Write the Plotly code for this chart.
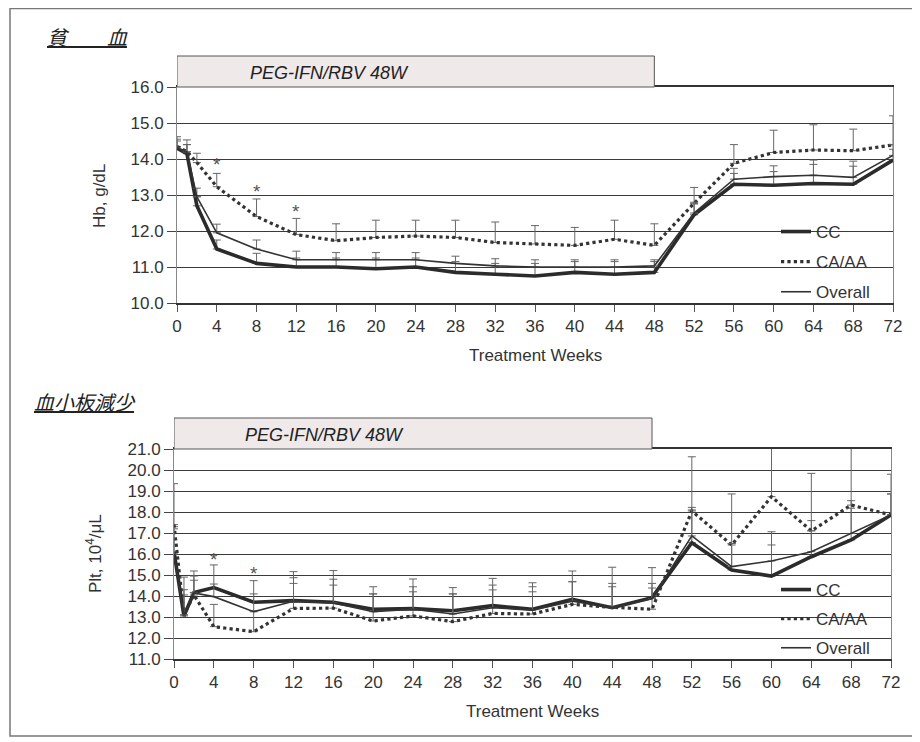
import plotly.graph_objects as go

W, H = 920, 742
OX, OY = 8, 8  # page body margin offset


def px(x):
    return (x - OX) / W


def py(y):
    return 1 - (y - OY) / H


# ---------------- data ----------------
weeks = [0, 1, 2, 4, 8, 12, 16, 20, 24, 28, 32, 36, 40, 44, 48, 52, 56, 60, 64, 68, 72]
series_names = ["CC", "CA/AA", "Overall"]
x_tick_vals = [0, 4, 8, 12, 16, 20, 24, 28, 32, 36, 40, 44, 48, 52, 56, 60, 64, 68, 72]

# Hb (g/dL)
hb_cc = [14.3, 14.15, 12.7, 11.5, 11.1, 11.0, 11.0, 10.95, 11.0, 10.85, 10.8, 10.75, 10.85, 10.8, 10.85,
         12.45, 13.3, 13.27, 13.32, 13.3, 13.97]
hb_ca = [14.35, 14.2, 13.9, 13.23, 12.4, 11.9, 11.73, 11.82, 11.86, 11.82, 11.68, 11.64, 11.6, 11.77, 11.6,
         12.77, 13.88, 14.18, 14.25, 14.23, 14.39]
hb_all = [14.3, 14.2, 12.95, 11.95, 11.5, 11.2, 11.2, 11.2, 11.2, 11.1, 11.03, 11.0, 11.0, 11.0, 11.03,
          12.5, 13.44, 13.51, 13.55, 13.49, 14.1]
hb_cc_sd = [0.25, 0.25, 0.25, 0.25, 0.28, 0.25, 0.25, 0.3, 0.25, 0.3, 0.3, 0.35, 0.3, 0.35, 0.3,
            0.3, 0.3, 0.38, 0.53, 0.5, 0.3]
hb_ca_sd = [0.27, 0.33, 0.26, 0.37, 0.49, 0.45, 0.47, 0.48, 0.44, 0.48, 0.57, 0.51, 0.5, 0.53, 0.6,
            0.44, 0.52, 0.62, 0.7, 0.6, 0.81]
hb_all_sd = [0.2, 0.2, 0.24, 0.24, 0.25, 0.24, 0.2, 0.2, 0.2, 0.2, 0.2, 0.2, 0.2, 0.2, 0.17,
             0.3, 0.3, 0.3, 0.42, 0.45, 0.3]
hb_star_weeks = [4, 8, 12]
hb_star_vals = [13.95, 13.2, 12.65]
hb_y_ticks = [10.0, 11.0, 12.0, 13.0, 14.0, 15.0, 16.0]

# Platelets (10^4/uL)
plt_cc = [16.1, 13.05, 14.17, 14.4, 13.7, 13.78, 13.7, 13.37, 13.4, 13.3, 13.54, 13.37, 13.84, 13.44, 13.92,
          16.54, 15.24, 14.95, 15.87, 16.67, 17.86]
plt_ca = [17.4, 13.1, 14.05, 12.54, 12.3, 13.41, 13.42, 12.81, 13.05, 12.78, 13.17, 13.14, 13.6, 13.46, 13.37,
          18.05, 16.43, 18.73, 17.1, 18.33, 17.86]
plt_all = [16.0, 13.1, 14.15, 13.97, 13.25, 13.75, 13.67, 13.25, 13.37, 13.14, 13.44, 13.33, 13.75, 13.44, 13.88,
           16.86, 15.4, 15.67, 16.11, 16.98, 17.86]
plt_cc_sd = [1.2, 1.0, 1.02, 1.08, 1.03, 1.38, 1.51, 1.07, 1.41, 1.1, 1.3, 1.26, 1.35, 1.93, 1.43,
             1.68, 1.26, 2.11, 1.72, 1.87, 1.0]
plt_ca_sd = [1.95, 1.2, 0.7, 1.06, 1.0, 1.19, 1.1, 1.29, 1.15, 1.32, 1.12, 1.06, 1.08, 0.98, 1.01,
             2.58, 2.43, 2.6, 2.74, 2.7, 1.94]
plt_all_sd = [1.2, 1.8, 0.8, 0.6, 0.85, 1.12, 1.13, 0.85, 1.07, 0.96, 1.08, 1.11, 0.93, 1.16, 0.72,
              1.24, 1.1, 0.76, 1.0, 1.2, 1.0]
plt_star_weeks = [4, 8]
plt_star_vals = [15.95, 15.27]
plt_y_ticks = [11.0, 12.0, 13.0, 14.0, 15.0, 16.0, 17.0, 18.0, 19.0, 20.0, 21.0]

# ---------------- styles ----------------
FONT = "Liberation Sans, Arial, sans-serif"
CJK = "Noto Sans CJK JP, sans-serif"
TXT = "#333333"
line_styles = {
    "CC": dict(color="#2b2b2b", width=3.6, dash="solid"),
    "CA/AA": dict(color="#333333", width=3.2, dash="dot"),
    "Overall": dict(color="#333333", width=1.6, dash="solid"),
}

fig = go.Figure()


def add_panel(vals, sds, xa, ya, legend_id):
    for name, v, sd in zip(series_names, vals, sds):
        fig.add_trace(go.Scatter(
            x=weeks, y=v, mode="lines", name=name,
            line=line_styles[name],
            error_y=dict(type="data", symmetric=False, array=sd, arrayminus=[0] * len(sd),
                         color="#666666", thickness=1, width=4),
            xaxis=xa, yaxis=ya, legend=legend_id, legendgroup=legend_id + name,
            showlegend=True, hoverinfo="skip",
        ))


add_panel([hb_cc, hb_ca, hb_all], [hb_cc_sd, hb_ca_sd, hb_all_sd], "x", "y", "legend")
add_panel([plt_cc, plt_ca, plt_all], [plt_cc_sd, plt_ca_sd, plt_all_sd], "x2", "y2", "legend2")


# ---------------- axes ----------------
def xaxis_style(dom, anchor):
    return dict(domain=dom, anchor=anchor, range=[0, 72], tickvals=x_tick_vals,
                ticks="outside", ticklen=7, tickcolor="#555", tickwidth=1,
                showline=True, linecolor="#333", linewidth=1.5, mirror=True,
                showgrid=False, zeroline=False, ticklabelstandoff=0, automargin=False,
                tickfont=dict(family=FONT, size=17, color=TXT))


def yaxis_style(dom, anchor, rng, tv):
    return dict(domain=dom, anchor=anchor, range=rng, tickvals=tv, tickformat=".1f",
                ticks="outside", ticklen=9, tickcolor="#444", tickwidth=1,
                showline=True, linecolor="#888", linewidth=1, mirror=True,
                showgrid=True, gridcolor="#3a3a3a", gridwidth=1.4, zeroline=False,
                automargin=False,
                tickfont=dict(family=FONT, size=17, color=TXT))


fig.update_layout(
    template="none",
    width=W, height=H, autosize=False,
    margin=dict(l=0, r=0, t=0, b=0, pad=0, autoexpand=False),
    paper_bgcolor="white", plot_bgcolor="white",
    xaxis=xaxis_style([px(177), px(893)], "y"),
    yaxis=yaxis_style([py(303), py(87)], "x", [10, 16], hb_y_ticks),
    xaxis2=xaxis_style([px(174), px(891)], "y2"),
    yaxis2=yaxis_style([py(659), py(449)], "x2", [11, 21], plt_y_ticks),
    legend=dict(x=px(776), xanchor="left", y=py(214), yanchor="top",
                bgcolor="rgba(0,0,0,0)", borderwidth=0, traceorder="grouped", tracegroupgap=5,
                font=dict(family=FONT, size=17, color=TXT)),
    legend2=dict(x=px(776), xanchor="left", y=py(572), yanchor="top",
                 bgcolor="rgba(0,0,0,0)", borderwidth=0, traceorder="grouped", tracegroupgap=4,
                 font=dict(family=FONT, size=17, color=TXT)),
)

# ---------------- shapes ----------------
shapes = [
    # outer frame
    dict(type="rect", xref="paper", yref="paper", x0=px(10), x1=1.02, y0=py(736), y1=py(8.5),
         line=dict(color="#777", width=1.5)),
    # treatment-period boxes
    dict(type="rect", xref="x", yref="paper", x0=0, x1=48, y0=py(87), y1=py(56),
         fillcolor="#efe9ea", line=dict(color="#555", width=1)),
    dict(type="rect", xref="x2", yref="paper", x0=0, x1=48, y0=py(449), y1=py(418),
         fillcolor="#efe9ea", line=dict(color="#555", width=1)),
    # white patches behind the legends (hide gridlines, not data)
    dict(type="rect", xref="paper", yref="paper", layer="between", x0=px(776), x1=px(886),
         y0=py(301), y1=py(221), fillcolor="white", line=dict(width=0)),
    dict(type="rect", xref="paper", yref="paper", layer="between", x0=px(776), x1=px(886),
         y0=py(657), y1=py(585), fillcolor="white", line=dict(width=0)),
]
fig.update_layout(shapes=shapes)


# ---------------- annotations ----------------
def note(text, x, y, size=17, angle=0, xanchor="center", color=TXT, family=FONT):
    return dict(text=text, x=px(x), y=py(y), xref="paper", yref="paper",
                xanchor=xanchor, yanchor="middle", textangle=angle, showarrow=False,
                font=dict(family=family, size=size, color=color))


ann = [
    note("<i><u>貧　　血</u></i>", 45, 37, size=20, xanchor="left", color="#222", family=CJK),
    note("<i><u>血小板減少</u></i>", 32, 401, size=20, xanchor="left", color="#222", family=CJK),
    note("<i>PEG-IFN/RBV 48W</i>", 248, 73, size=18, xanchor="left", color="#222"),
    note("<i>PEG-IFN/RBV 48W</i>", 243, 435, size=18, xanchor="left", color="#222"),
    note("Hb, g/dL", 100, 196, angle=-90),
    note("Plt, 10<sup>4</sup>/μL", 94, 554, angle=-90),
    note("Treatment Weeks", 535, 356),
    note("Treatment Weeks", 532, 711),
]
for wk, v in zip(hb_star_weeks, hb_star_vals):
    ann.append(dict(text="*", x=wk, y=v, xref="x", yref="y", showarrow=False, yshift=-4,
                    xanchor="center", yanchor="middle",
                    font=dict(family=FONT, size=19, color="#555")))
for wk, v in zip(plt_star_weeks, plt_star_vals):
    ann.append(dict(text="*", x=wk, y=v, xref="x2", yref="y2", showarrow=False, yshift=-4,
                    xanchor="center", yanchor="middle",
                    font=dict(family=FONT, size=19, color="#555")))
fig.update_layout(annotations=ann)

fig.write_html("out.html")
